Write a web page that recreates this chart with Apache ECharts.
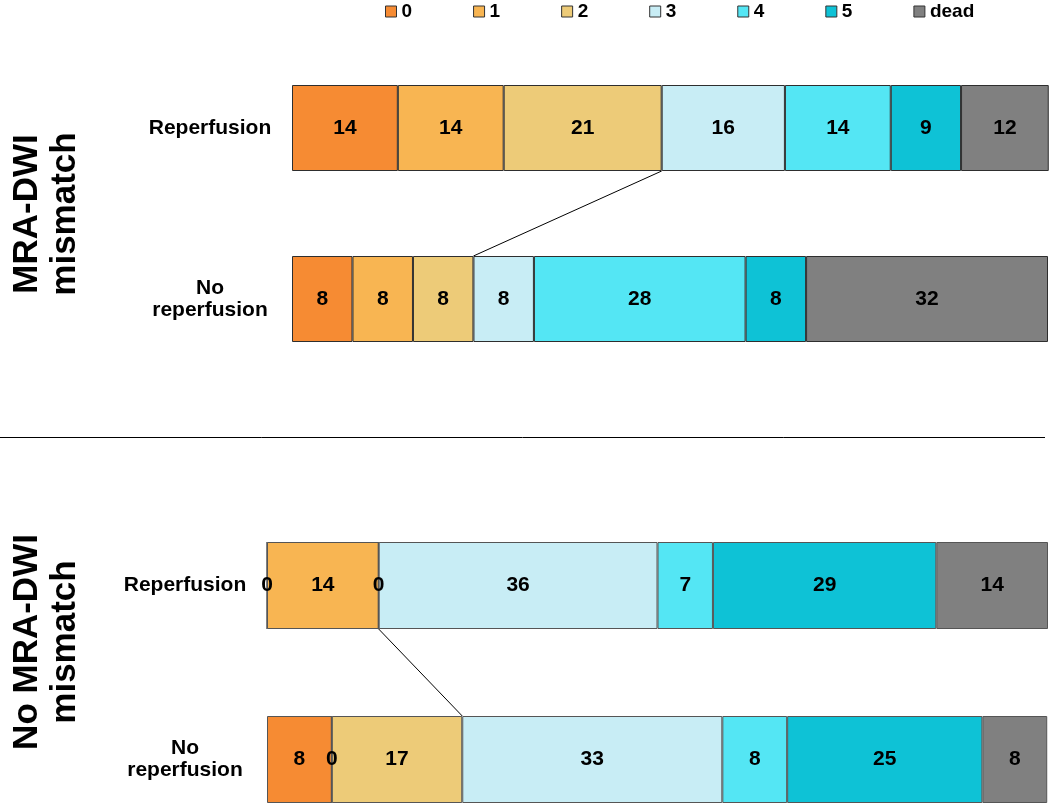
<!DOCTYPE html>
<html>
<head>
<meta charset="utf-8">
<script src="https://cdn.jsdelivr.net/npm/echarts@6/dist/echarts.min.js"></script>
<style>
  html, body { margin: 0; padding: 0; background: #fff; }
  #chart { width: 1050px; height: 803px; }
</style>
</head>
<body>
<div id="chart"></div>
<script>
// categories and outcome levels (mRS)
const categories = ["Reperfusion", "No\nreperfusion"];
const levels = ["0", "1", "2", "3", "4", "5", "dead"];
const levelColors = ["#F68B33", "#F8B552", "#EDCB78", "#C8EDF5", "#54E6F4", "#0EC2D6", "#808080"];

// percentages per level (0..5, dead)
const mismatchReperfusion = [14.0, 14.0, 20.9, 16.3, 14.0, 9.3, 11.6];
const mismatchNoReperfusion = [8, 8, 8, 8, 28, 8, 32];
const noMismatchReperfusion = [0, 14.3, 0, 35.7, 7.1, 28.6, 14.3];
const noMismatchNoReperfusion = [8.3, 0, 16.7, 33.3, 8.3, 25, 8.3];

const fontFamily = "'Liberation Sans', Arial, sans-serif";
const barHeights = [86, 87];
const borderColors = ["#2e2e2e", "#555"];

const chart = echarts.init(document.getElementById("chart"));

// sum of levels 0-2 (favourable outcome), used for the connector lines
const goodSum = (arr) => arr.slice(0, 3).reduce((a, b) => a + b, 0);

const makeBars = (rep, noRep, axisIndex) =>
  levels.map((lvl, i) => ({
    name: lvl,
    type: "bar",
    stack: "panel" + axisIndex,
    xAxisIndex: axisIndex,
    yAxisIndex: axisIndex,
    barWidth: barHeights[axisIndex],
    clip: false,
    itemStyle: {
      color: levelColors[i],
      borderColor: borderColors[axisIndex],
      borderWidth: 1,
    },
    label: {
      show: true,
      position: "inside",
      color: "#000",
      fontFamily: fontFamily,
      fontWeight: "bold",
      fontSize: 21,
      formatter: (p) => Math.round(p.value),
    },
    data: [rep[i], noRep[i]],
  }));

// line joining the 0-2 boundary of the two bars
const makeConnector = (rep, noRep, axisIndex) => ({
  type: "custom",
  xAxisIndex: axisIndex,
  yAxisIndex: axisIndex,
  silent: true,
  clip: false,
  z: 1,
  encode: { x: [0, 1], y: 2 },
  data: [[goodSum(rep), goodSum(noRep), 0]],
  renderItem: (params, api) => {
    const half = barHeights[axisIndex] / 2;
    const p1 = api.coord([api.value(0), 0]);
    const p2 = api.coord([api.value(1), 1]);
    return {
      type: "line",
      shape: { x1: p1[0], y1: p1[1] + half, x2: p2[0], y2: p2[1] - half },
      style: { stroke: "#000", lineWidth: 1 },
    };
  },
});

const makeYAxis = (gridIndex) => ({
  type: "category",
  gridIndex: gridIndex,
  data: categories,
  inverse: true,
  boundaryGap: false,
  axisLine: { show: false },
  axisTick: { show: false },
  splitLine: { show: false },
  axisLabel: {
    align: "center",
    margin: 82,
    color: "#000",
    fontFamily: fontFamily,
    fontWeight: "bold",
    fontSize: 21,
    lineHeight: 22,
  },
});

const option = {
  animation: false,
  legend: {
    data: levels,
    left: 380,
    top: -3,
    icon: "rect",
    itemWidth: 11,
    itemHeight: 11,
    itemGap: 61,
    itemStyle: { borderColor: "#333", borderWidth: 1 },
    textStyle: {
      color: "#000",
      fontFamily: fontFamily,
      fontWeight: "bold",
      fontSize: 19,
    },
  },
  grid: [
    { left: 292, width: 756, top: 128, height: 171 },
    { left: 267, width: 781, top: 585.5, height: 174 },
  ],
  xAxis: [
    { type: "value", gridIndex: 0, min: 0, max: 100, show: false },
    { type: "value", gridIndex: 1, min: 0, max: 100, show: false },
  ],
  yAxis: [makeYAxis(0), makeYAxis(1)],
  graphic: [
    {
      type: "line",
      shape: { x1: 0, y1: 437.5, x2: 1045, y2: 437.5 },
      style: { stroke: "#000", lineWidth: 1 },
    },
    {
      type: "text",
      x: 46,
      y: 214,
      rotation: Math.PI / 2,
      style: {
        text: "MRA-DWI\nmismatch",
        fill: "#000",
        font: "bold 35px " + fontFamily,
        align: "center",
        verticalAlign: "middle",
        lineHeight: 38,
      },
    },
    {
      type: "text",
      x: 46,
      y: 642,
      rotation: Math.PI / 2,
      style: {
        text: "No MRA-DWI\nmismatch",
        fill: "#000",
        font: "bold 35px " + fontFamily,
        align: "center",
        verticalAlign: "middle",
        lineHeight: 38,
      },
    },
  ],
  series: [
    ...makeBars(mismatchReperfusion, mismatchNoReperfusion, 0),
    ...makeBars(noMismatchReperfusion, noMismatchNoReperfusion, 1),
    makeConnector(mismatchReperfusion, mismatchNoReperfusion, 0),
    makeConnector(noMismatchReperfusion, noMismatchNoReperfusion, 1),
  ],
};

chart.setOption(option);

window.addEventListener("resize", () => {
  chart.resize();
});
</script>
</body>
</html>
